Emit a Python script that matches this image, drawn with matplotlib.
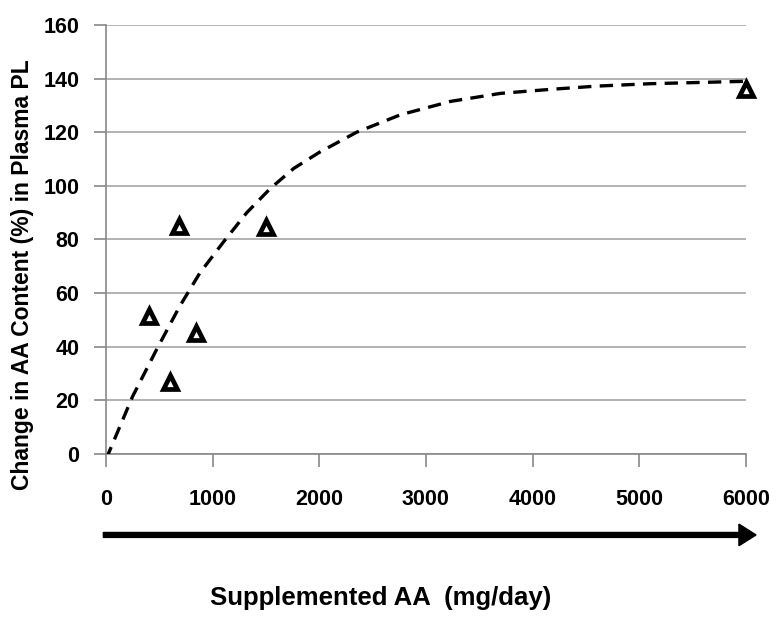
import matplotlib
matplotlib.use("Agg")
import matplotlib.pyplot as plt

plt.rcParams['font.family'] = ['Liberation Sans', 'DejaVu Sans']
plt.rcParams['font.weight'] = 'bold'

# measured points (supplemented AA vs change in plasma PL AA)
dose = [400, 600, 680, 840, 1500, 6000]
change = [51.5, 27, 85, 45, 84.5, 136]

# trend line
fit_x = [0, 250, 475, 690, 880, 1100, 1320, 1540, 1760, 2000, 2350,
         2760, 3230, 3700, 4170, 4600, 5100, 5500, 6000]
fit_y = [-2, 21.5, 39, 55, 67.5, 79, 90, 99, 106.5, 112.5, 120,
         126.5, 131.5, 134.5, 136, 137.2, 138.1, 138.5, 139]

yticks = [0, 20, 40, 60, 80, 100, 120, 140, 160]
xticks = [0, 1000, 2000, 3000, 4000, 5000, 6000]

fig = plt.figure(figsize=(7.77, 6.17), dpi=100)
ax = fig.add_axes([0.1364, 0.2642, 0.8236, 0.6953])

ax.plot(fit_x, fit_y, color='black', lw=2.4, ls=(0, (4, 2.5)), zorder=3)
ax.plot(dose, change, ls='none', marker='^', ms=10.5, mfc='white',
        mec='black', mew=3.4, zorder=4, clip_on=False)

ax.set_xlim(0, 6000)
ax.set_ylim(0, 160)
ax.set_xticks(xticks)
ax.set_yticks(yticks)
ax.yaxis.grid(True, color='#a6a6a6', lw=1.2)
ax.set_axisbelow(True)
for s in ['top', 'right']:
    ax.spines[s].set_visible(False)
for s in ['left', 'bottom']:
    ax.spines[s].set_color('#888888')
    ax.spines[s].set_linewidth(1.2)
ax.tick_params(axis='both', direction='out', length=9, width=1.2,
               color='#888888', labelsize=15.5)
ax.tick_params(axis='x', pad=16)
ax.tick_params(axis='y', pad=10)

fig.text(0.029, 0.555, 'Change in AA Content (%) in Plasma PL', rotation=90,
         ha='center', va='center', fontsize=16.5, fontweight='bold')

fig.text(0.49, 0.03, 'Supplemented AA  (mg/day)', ha='center', va='center',
         fontsize=18.5, fontweight='bold')

fig.patches.append(matplotlib.patches.FancyArrow(
    0.133, 0.133, 0.84, 0, width=0.008, head_width=0.035,
    head_length=0.022, length_includes_head=True, color='black',
    transform=fig.transFigure, figure=fig))

fig.savefig('out.png', dpi=100)
